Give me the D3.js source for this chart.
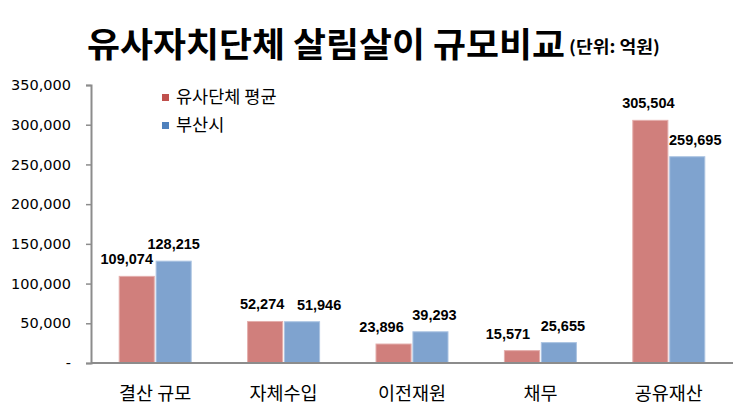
<!DOCTYPE html>
<html><head><meta charset="utf-8">
<script src="https://cdn.jsdelivr.net/npm/d3@7"></script>
<style>body{margin:0;background:#fff}svg{display:block}</style>
</head><body>
<svg id="c" width="739" height="413"></svg>
<script>
const categories = ["결산 규모", "자체수입", "이전재원", "채무", "공유재산"];
const seriesNames = ["유사단체 평균", "부산시"];
const avgValues = [109074, 52274, 23896, 15571, 305504];
const busanValues = [128215, 51946, 39293, 25655, 259695];
const yTicks = [0, 50000, 100000, 150000, 200000, 250000, 300000, 350000];
const titleText = "유사자치단체 살림살이 규모비교";
const unitText = "(단위: 억원)";

// styling (not data)
const barColors = ["#d07f7c", "#7fa3cf"];
const barStroke = ["#e4aeac", "#abc3e2"];
const legendColors = ["#c0504d", "#4f81bd"];
const labelDx = [[-10, 0], [-3, 17], [-12, 4], [-14, 4], [-2, 8]];

const svg = d3.select("#c");
const x0 = d3.scaleBand().domain(categories).range([91, 733]).padding(0);
const groupW = 72;
const x1 = d3.scaleBand().domain(seriesNames).range([0, groupW]).paddingInner(0.05);
const y = d3.scaleLinear().domain([0, 350000]).range([363, 85]);

// title
svg.append("text").attr("x", 87).attr("y", 57)
  .attr("font-family", "'Noto Sans CJK KR'").attr("font-weight", 700)
  .attr("font-size", 34).attr("textLength", 478).attr("lengthAdjust", "spacingAndGlyphs")
  .attr("fill", "#000").text(titleText);
svg.append("text").attr("x", 569).attr("y", 53)
  .attr("font-family", "'Noto Sans CJK KR'").attr("font-weight", 700)
  .attr("font-size", 17).attr("textLength", 91).attr("lengthAdjust", "spacingAndGlyphs")
  .attr("fill", "#000").text(unitText);

// y axis
const yAxis = d3.axisLeft(y).tickValues(yTicks).tickSize(5).tickPadding(15)
  .tickFormat(d => d === 0 ? "-" : d3.format(",")(d));
const ga = svg.append("g").attr("transform", "translate(91,0)").call(yAxis);
ga.select(".domain").attr("stroke", "#8c8c8c").attr("stroke-width", 2);
ga.selectAll(".tick line").attr("stroke", "#8c8c8c").attr("stroke-width", 1.5);
ga.selectAll(".tick text").attr("font-family", "'DejaVu Sans'").attr("font-size", 14.5).attr("fill", "#000");

// bars
const data = categories.map((c, i) => ({c, i, vals: [avgValues[i], busanValues[i]]}));
const groups = svg.append("g").selectAll("g").data(data).join("g")
  .attr("transform", d => `translate(${x0(d.c) + (x0.bandwidth() - groupW) / 2},0)`);
groups.selectAll("rect").data(d => d.vals.map((v, k) => ({v, k, s: seriesNames[k]})))
  .join("rect")
  .attr("x", d => x1(d.s)).attr("width", x1.bandwidth())
  .attr("y", d => y(d.v)).attr("height", d => y(0) - y(d.v))
  .attr("fill", d => barColors[d.k]).attr("stroke", d => barStroke[d.k]).attr("stroke-width", 1);

// baseline
svg.append("line").attr("x1", 91).attr("x2", 733).attr("y1", y(0)).attr("y2", y(0))
  .attr("stroke", "#8c8c8c").attr("stroke-width", 2);

// data labels
groups.each(function(d) {
  d3.select(this).selectAll("text.lbl").data(d.vals.map((v, k) => ({v, k, s: seriesNames[k]})))
    .join("text").attr("class", "lbl")
    .attr("x", e => x1(e.s) + x1.bandwidth() / 2 + labelDx[d.i][e.k])
    .attr("y", e => y(e.v) - 12)
    .attr("text-anchor", "middle")
    .attr("font-family", "'Liberation Sans'").attr("font-weight", 700).attr("font-size", 14.5)
    .attr("fill", "#000").text(e => d3.format(",")(e.v));
});

// category labels
svg.append("g").selectAll("text").data(categories).join("text")
  .attr("x", d => x0(d) + x0.bandwidth() / 2).attr("y", 400)
  .attr("text-anchor", "middle")
  .attr("font-family", "'Noto Sans CJK KR'").attr("font-size", 18.5).attr("fill", "#000")
  .text(d => d);

// legend
const lg = svg.append("g").selectAll("g").data(seriesNames).join("g")
  .attr("transform", (d, i) => `translate(162,${97 + i * 28})`);
lg.append("rect").attr("x", 0).attr("y", -3).attr("width", 7).attr("height", 7)
  .attr("fill", (d, i) => legendColors[i]);
lg.append("text").attr("x", 14).attr("y", 6)
  .attr("font-family", "'Noto Sans CJK KR'").attr("font-size", 17.5).attr("fill", "#000")
  .text(d => d);
</script>
</body></html>
